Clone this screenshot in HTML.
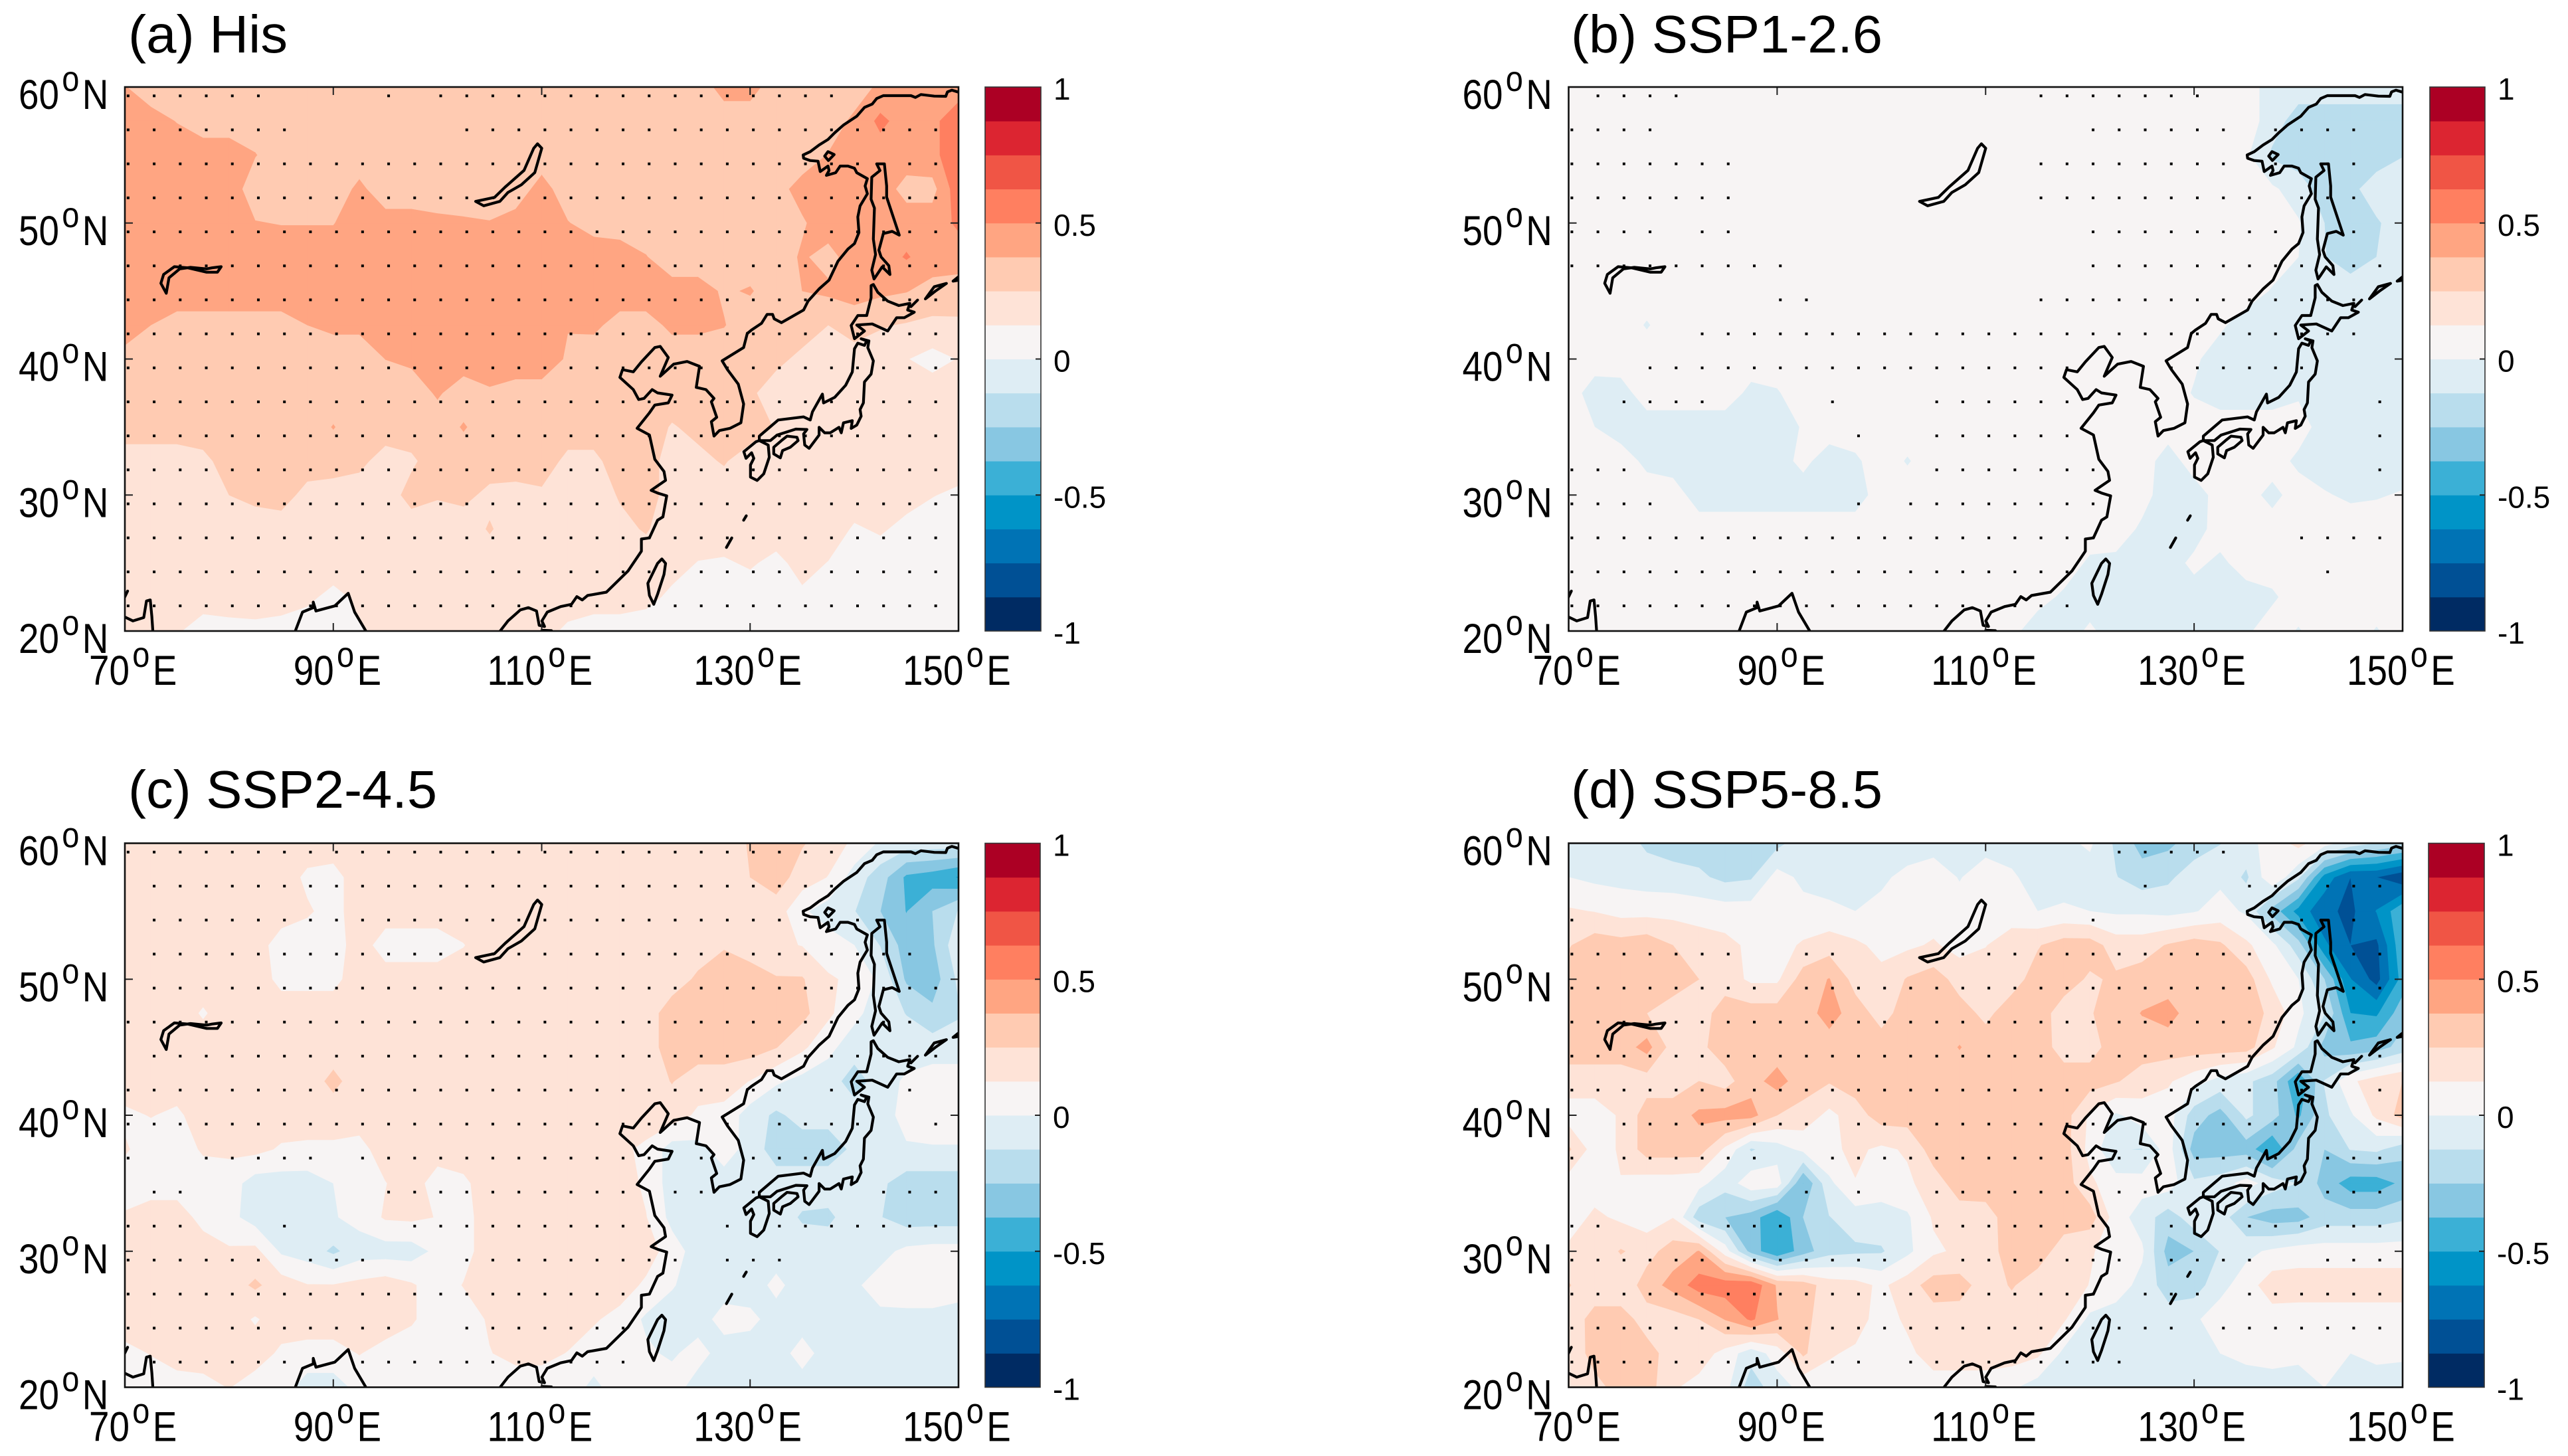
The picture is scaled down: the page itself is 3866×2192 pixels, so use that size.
<!DOCTYPE html>
<html lang="en">
<head>
<meta charset="utf-8">
<title>Four-panel East Asia anomaly maps</title>
<style>
html,body{margin:0;padding:0;background:#fff;}
body{width:3866px;height:2192px;overflow:hidden;}
svg{display:block;}
text{font-family:"Liberation Sans",Arial,sans-serif;fill:#000;}
.ttl{font-size:80px;}
</style>
</head>
<body>
<svg id="figure" width="3866" height="2192" viewBox="0 0 3866 2192">
<rect x="0" y="0" width="3866" height="2192" fill="#fff"/>
<text class="ttl" x="193" y="79" textLength="240" lengthAdjust="spacingAndGlyphs">(a) His</text>
<text class="ttl" x="2365" y="79" textLength="469" lengthAdjust="spacingAndGlyphs">(b) SSP1-2.6</text>
<text class="ttl" x="193" y="1216" textLength="465" lengthAdjust="spacingAndGlyphs">(c) SSP2-4.5</text>
<text class="ttl" x="2365" y="1216" textLength="469" lengthAdjust="spacingAndGlyphs">(d) SSP5-8.5</text>
</svg>
<script>
// ---------- axis categories and tick labels ----------
const lonTicks = [70, 90, 110, 130, 150];
const latTicks = [60, 50, 40, 30, 20];
const xTickLabels = ['70', '90', '110', '130', '150'];
const yTickLabels = ['60', '50', '40', '30', '20'];
const cbarTicks = [1, 0.5, 0, -0.5, -1];
const cbarTickLabels = ['1', '0.5', '0', '-0.5', '-1'];
const levels = [-1,-0.875,-0.75,-0.625,-0.5,-0.375,-0.25,-0.125,0,0.125,0.25,0.375,0.5,0.625,0.75,0.875];
const bandColors = ['#002b63','#005095','#0073b5','#0094c7','#3bb0d6','#88c7e2','#b9dded','#deedf4','#f7f4f4','#fee3d7','#ffcbb2','#ffa582','#ff7f60','#f05545','#dc2531','#ac0024'];

// ---------- gridded values: rows lat 60..20 every 2.5, columns lon 70..150 every 2.5 ----------
const fieldA = [
[.38,.31,.31,.31,.31,.31,.31,.31,.31,.31,.31,.31,.31,.31,.31,.31,.31,.31,.31,.31,.31,.31,.31,.42,.42,.31,.31,.31,.31,.40,.42,.42,.42],
[.44,.42,.37,.31,.31,.31,.31,.31,.31,.31,.31,.31,.31,.31,.31,.31,.31,.31,.31,.31,.31,.31,.31,.31,.31,.31,.31,.31,.40,.53,.44,.46,.60],
[.44,.44,.44,.44,.44,.38,.31,.31,.31,.31,.31,.31,.31,.31,.31,.31,.31,.31,.31,.31,.31,.31,.31,.31,.31,.31,.31,.38,.44,.44,.44,.46,.60],
[.44,.44,.44,.44,.44,.31,.31,.31,.31,.40,.31,.31,.31,.31,.31,.31,.42,.31,.31,.31,.31,.31,.31,.31,.31,.33,.42,.44,.44,.44,.33,.33,.58],
[.44,.44,.44,.44,.44,.38,.37,.37,.37,.44,.42,.42,.40,.39,.38,.42,.44,.38,.33,.31,.31,.31,.31,.31,.31,.31,.36,.44,.44,.44,.44,.44,.52],
[.44,.44,.44,.44,.44,.44,.44,.44,.44,.44,.44,.44,.44,.44,.44,.44,.44,.44,.44,.44,.38,.31,.31,.31,.31,.31,.39,.33,.44,.44,.51,.44,.44],
[.44,.44,.44,.44,.44,.44,.44,.44,.44,.44,.44,.44,.44,.44,.44,.44,.44,.44,.44,.44,.44,.42,.42,.36,.385,.31,.375,.40,.42,.40,.38,.33,.31],
[.44,.375,.33,.33,.33,.33,.33,.375,.40,.40,.44,.44,.44,.44,.44,.44,.44,.38,.40,.33,.33,.40,.40,.38,.31,.31,.31,.25,.31,.26,.24,.22,.23],
[.33,.31,.31,.31,.31,.31,.31,.31,.31,.31,.376,.40,.44,.44,.44,.44,.44,.36,.31,.31,.31,.31,.31,.31,.31,.28,.22,.19,.19,.19,.13,.08,.13],
[.31,.31,.31,.31,.31,.31,.31,.31,.31,.31,.31,.31,.39,.31,.36,.33,.33,.31,.31,.31,.31,.31,.31,.31,.27,.19,.19,.19,.19,.19,.19,.19,.19],
[.31,.31,.31,.31,.31,.31,.31,.31,.38,.31,.31,.31,.31,.385,.31,.31,.31,.31,.31,.31,.31,.24,.28,.31,.31,.24,.19,.19,.19,.19,.19,.19,.19],
[.19,.19,.19,.22,.30,.31,.31,.31,.31,.28,.20,.23,.31,.31,.31,.31,.31,.22,.22,.31,.31,.19,.22,.26,.19,.19,.19,.19,.19,.19,.19,.19,.19],
[.19,.19,.19,.19,.25,.28,.30,.21,.19,.19,.19,.29,.26,.28,.22,.21,.23,.19,.19,.26,.31,.19,.19,.19,.19,.19,.19,.19,.19,.19,.17,.13,.10],
[.19,.19,.19,.19,.19,.19,.19,.19,.19,.19,.19,.19,.19,.19,.26,.19,.19,.19,.19,.22,.26,.19,.19,.19,.19,.19,.19,.19,.11,.14,.09,.06,.06],
[.19,.19,.19,.19,.19,.19,.19,.19,.19,.19,.19,.19,.19,.19,.19,.19,.19,.19,.19,.19,.19,.17,.12,.11,.14,.09,.17,.12,.06,.06,.06,.06,.06],
[.19,.19,.19,.19,.19,.19,.19,.15,.09,.15,.19,.19,.19,.19,.19,.19,.19,.19,.19,.19,.16,.10,.06,.06,.06,.06,.10,.06,.06,.06,.06,.06,.06],
[.19,.19,.14,.06,.08,.09,.07,.06,.06,.11,.19,.19,.19,.19,.19,.19,.17,.10,.06,.06,.06,.06,.06,.06,.06,.06,.06,.06,.06,.06,.06,.06,.06]
];
const fieldB = [
[.06,.06,.06,.06,.06,.06,.06,.06,.06,.06,.06,.06,.06,.06,.06,.06,.06,.06,.06,.06,.06,.06,.06,.06,.06,.06,.06,-.06,-.06,-.06,-.06,-.06,-.06],
[.06,.06,.06,.06,.06,.06,.06,.06,.06,.06,.06,.06,.06,.06,.06,.06,.06,.06,.06,.06,.06,.06,.06,.06,.06,.06,.06,-.06,-.19,-.19,-.19,-.19,-.19],
[.06,.06,.06,.06,.06,.06,.06,.06,.06,.06,.06,.06,.06,.06,.06,.06,.06,.06,.06,.06,.06,.06,.06,.06,.06,.06,.02,-.15,-.19,-.19,-.19,-.19,-.13],
[.06,.06,.06,.06,.06,.06,.06,.06,.06,.06,.06,.06,.06,.06,.06,.06,.06,.06,.06,.06,.06,.06,.06,.06,.06,.06,.06,.02,-.06,-.19,-.16,-.06,-.06],
[.06,.06,.06,.06,.06,.06,.06,.06,.06,.06,.06,.06,.06,.06,.06,.06,.06,.06,.06,.06,.06,.06,.06,.06,.06,.06,.06,.06,.01,-.125,-.19,-.14,-.06],
[.06,.06,.06,.06,.06,.06,.06,.06,.06,.06,.06,.06,.06,.06,.06,.06,.06,.06,.06,.06,.06,.06,.06,.06,.06,.06,.06,.06,0,-.12,-.19,-.125,-.06],
[.06,.06,.06,.06,.06,.06,.06,.06,.06,.06,.06,.06,.06,.06,.06,.06,.06,.06,.06,.06,.06,.06,.06,.06,.06,.06,.06,-.01,-.06,-.06,-.06,-.06,-.06],
[.06,.06,.06,-.01,.06,.06,.06,.06,.06,.06,.06,.06,.06,.06,.06,.06,.06,.06,.06,.06,.06,.06,.06,.06,.06,.02,-.06,-.06,-.06,-.06,-.06,-.06,-.06],
[.06,.06,.06,.06,.06,.06,.06,.06,.06,.06,.06,.06,.06,.06,.06,.06,.06,.06,.06,.06,.06,.06,.06,.06,.02,-.06,-.06,-.06,-.06,-.06,-.06,-.06,-.06],
[.06,-.06,-.05,.06,.06,.06,.06,-.03,-.01,.06,.06,.06,.06,.06,.06,.06,.06,.06,.06,.06,.06,.06,.06,.06,-.01,-.06,-.06,-.06,-.02,-.06,-.06,-.06,-.06],
[.06,0,-.06,-.06,-.06,-.06,-.06,-.06,-.06,.01,.06,.06,.06,.06,.06,.06,.06,.06,.06,.06,.06,.06,.06,.06,.06,.06,.06,.06,.06,-.06,-.06,-.06,-.06],
[.06,.06,.06,-.03,-.06,-.06,-.06,-.06,-.05,.03,-.06,-.02,.06,-.01,.06,.06,.06,.06,.06,.06,.06,.06,.06,-.06,.06,.06,.06,.06,-.03,-.06,-.06,-.06,-.06],
[.06,.06,.06,.06,.06,-.06,-.06,-.06,-.06,-.06,-.06,-.06,.06,.06,.06,.06,.06,.06,.06,.06,.06,.06,.04,-.06,-.06,.05,.05,-.04,.06,.01,-.02,-.01,.01],
[.06,.06,.06,.06,.06,.06,.06,.06,.06,.06,.06,.06,.06,.06,.06,.06,.06,.06,.06,.06,.06,.06,-.02,-.06,-.06,.06,.06,.06,.06,.06,.06,.06,.06],
[.06,.06,.06,.06,.06,.06,.06,.06,.06,.06,.06,.06,.06,.06,.06,.06,.06,.06,.06,.06,-.02,-.03,-.06,-.06,.03,-.03,.06,.06,.06,.06,.06,.06,.06],
[.06,.06,.06,.06,.06,.06,.06,.06,.06,.06,.06,.06,.06,.06,.06,.06,.06,.06,.04,-.02,-.06,-.06,-.06,-.06,-.06,-.06,-.06,-.02,.06,.06,.06,.06,.06],
[.06,.06,.06,.06,.06,.06,.06,.06,.06,.06,.06,.06,.06,.06,.06,.06,.06,.03,-.06,-.06,.02,-.06,-.06,-.06,-.06,-.06,-.02,.06,-.01,.06,.06,-.01,.06]
];
const fieldC = [
[.19,.19,.19,.19,.19,.19,.19,.19,.19,.19,.19,.19,.19,.19,.19,.19,.19,.19,.19,.19,.19,.19,.19,.19,.26,.31,.26,.19,.10,-.02,-.06,-.06,-.06],
[.19,.19,.19,.19,.19,.19,.19,.10,.08,.19,.19,.19,.19,.19,.19,.19,.19,.19,.19,.19,.19,.19,.19,.19,.25,.31,.19,.12,-.06,-.19,-.40,-.44,-.51],
[.19,.19,.19,.19,.19,.19,.19,.14,.08,.19,.19,.19,.19,.19,.19,.19,.19,.19,.19,.19,.19,.19,.19,.19,.19,.19,.02,-.06,-.12,-.25,-.38,-.25,-.12],
[.19,.19,.19,.19,.19,.19,.06,.06,.06,.19,.06,.06,.06,.12,.19,.19,.19,.19,.19,.19,.19,.19,.19,.24,.19,.15,.12,.06,0,-.13,-.31,-.27,-.03],
[.19,.19,.19,.19,.19,.19,.09,.09,.09,.19,.19,.19,.19,.19,.19,.19,.19,.19,.19,.19,.19,.19,.27,.31,.31,.26,.26,.14,.10,-.03,-.27,-.32,-.10],
[.19,.19,.19,.11,.19,.19,.19,.19,.19,.19,.19,.19,.19,.19,.19,.19,.19,.19,.19,.19,.19,.31,.31,.31,.31,.31,.29,.15,.03,-.06,-.13,-.22,-.14],
[.19,.19,.19,.19,.19,.19,.19,.19,.19,.19,.19,.19,.19,.19,.19,.19,.19,.19,.19,.19,.19,.31,.31,.31,.31,.255,.15,.03,-.06,-.06,-.06,-.06,-.06],
[.19,.19,.19,.19,.19,.19,.19,.19,.28,.19,.19,.19,.19,.19,.19,.19,.19,.19,.19,.19,.19,.255,.19,.19,.12,.02,-.04,-.06,-.19,-.06,.02,.06,.06],
[.10,.13,.10,.19,.19,.19,.19,.19,.19,.19,.19,.19,.19,.19,.19,.19,.19,.19,.19,.19,.19,.19,.10,.08,-.06,-.15,-.08,-.08,-.06,-.04,.03,.06,.06],
[.14,.06,.06,.14,.15,.16,.11,.10,.10,.08,.19,.19,.19,.19,.19,.19,.19,.19,.19,.15,.10,-.06,-.04,.06,-.05,-.19,-.19,-.19,-.10,-.06,-.01,-.01,-.01],
[.06,.06,.06,.06,.06,-.06,-.06,-.06,0,.06,.12,.19,.06,.10,.19,.19,.19,.19,.19,.19,.10,-.06,-.06,-.06,-.06,-.06,-.06,-.06,-.06,-.10,-.19,-.19,-.19],
[.14,.19,.19,.08,.04,-.06,-.06,-.06,-.01,.04,.14,.15,.12,.08,.19,.19,.19,.19,.19,.19,.13,-.04,-.06,-.09,-.06,-.06,-.14,-.15,-.06,-.12,-.19,-.19,-.19],
[.19,.19,.19,.19,.14,.16,-.02,-.06,-.15,-.06,-.06,-.06,.03,.08,.19,.19,.19,.19,.19,.19,.19,.06,-.06,-.06,-.06,-.06,-.06,-.06,-.06,-.04,.03,.05,.05],
[.19,.19,.19,.19,.19,.27,.19,.13,.13,.16,.19,.14,.06,.13,.19,.19,.19,.19,.19,.19,.10,.01,-.06,-.06,-.06,.03,-.06,-.06,-.02,.05,.06,.06,.06],
[.19,.19,.19,.19,.19,.11,.19,.19,.19,.19,.19,.14,.06,.06,.14,.19,.19,.19,.14,.08,-.02,-.06,-.06,.05,.03,-.05,-.06,-.06,-.06,-.03,-.03,-.03,-.06],
[.09,.13,.19,.19,.19,.19,.10,.08,.08,.13,.08,.06,.06,.06,.12,.16,.16,.12,.06,.06,.02,-.02,.05,-.06,-.06,-.06,.05,-.06,-.06,-.06,-.06,-.06,-.06],
[.06,.06,.06,.08,.13,.06,.06,-.06,-.06,.04,.06,.06,.06,.06,.06,.06,.06,.06,-.03,.06,.06,.06,-.06,-.06,-.06,-.06,-.06,-.06,-.06,-.06,-.06,-.06,-.06]
];
const fieldD = [
[-.06,-.06,-.06,-.15,-.19,-.19,-.14,-.19,-.16,-.06,-.06,-.06,-.06,-.06,-.06,-.06,-.06,-.06,-.06,-.03,.02,-.15,-.3,-.28,-.19,-.13,-.05,.06,.16,.05,-.06,-.13,-.2],
[0,-.03,-.04,-.06,-.07,-.1,-.16,-.14,.05,-.03,-.06,-.06,-.02,.03,.08,-.01,.08,.02,-.06,-.06,-.06,-.12,-.19,-.15,-.06,-.03,-.15,.1,-.1,-.55,-.75,-.75,-.85],
[.14,.12,.08,.08,.08,.07,.06,.06,.06,.04,.03,0,.03,.06,.06,.06,.07,.06,0,.02,0,-.02,-.02,-.04,-.01,.05,-.02,-.3,-.55,-.72,-.78,-.62,-.4],
[.24,.32,.30,.33,.25,.19,.16,.10,.08,.14,.19,.15,.09,.10,.14,.08,.12,.19,.24,.31,.31,.19,.19,.26,.31,.27,.15,.03,-.2,-.6,-.75,-.78,-.4],
[.31,.31,.31,.31,.31,.25,.19,.10,.10,.31,.38,.20,.16,.26,.31,.20,.19,.20,.30,.31,.23,.27,.31,.31,.31,.31,.31,.10,0,-.25,-.62,-.8,-.45],
[.31,.31,.31,.25,.19,.19,.31,.31,.31,.31,.43,.31,.20,.31,.31,.30,.22,.31,.31,.19,.24,.31,.38,.42,.31,.31,.31,.22,.03,-.12,-.5,-.52,-.3],
[.31,.31,.31,.42,.19,.22,.31,.31,.31,.31,.31,.31,.31,.31,.31,.38,.31,.31,.31,.20,.20,.31,.31,.31,.31,.31,.30,.14,-.03,-.3,-.35,-.31,-.2],
[.19,.19,.19,.19,.19,.25,.20,.33,.42,.31,.26,.31,.31,.31,.31,.31,.31,.31,.31,.31,.31,.26,.19,.14,.05,-.05,-.1,-.2,-.5,-.12,.10,.19,.25],
[.06,.06,.14,.31,.31,.40,.42,.42,.25,.20,.09,.19,.31,.31,.31,.31,.31,.31,.31,.31,.10,-.02,.06,.06,-.19,-.3,-.1,-.2,-.4,-.15,-.02,.15,.30],
[.27,.06,.14,.31,.31,.31,.10,-.14,-.06,.03,.10,.15,.10,.14,.31,.31,.31,.31,.31,.31,.08,-.12,-.13,.06,-.31,-.31,-.31,-.5,-.2,-.25,-.12,-.10,-.2],
[.06,.06,.12,.06,.06,.04,-.08,.08,.07,-.38,-.03,.12,.06,.10,.19,.31,.31,.31,.31,.31,.15,.05,.05,.06,-.1,-.06,.05,-.06,-.13,-.3,-.44,-.44,-.35],
[.06,.15,.10,.06,.12,-.2,-.25,-.31,-.5,-.25,-.13,-.06,-.05,-.02,.14,.19,.20,.31,.31,.31,.31,.06,-.06,-.19,-.06,-.06,-.25,-.31,-.3,-.19,-.19,-.19,-.15],
[.15,.15,.26,.20,.31,.38,.06,-.3,-.5,-.31,-.17,-.15,-.14,-.03,.10,.15,.19,.31,.31,.19,.14,.06,.02,-.3,-.25,-.12,-.03,.02,.06,.06,.06,.06,.06],
[.26,.15,.15,.31,.42,.56,.57,.60,.36,.31,.19,.17,.10,.19,.31,.30,.19,.26,.19,.19,.12,.06,-.04,-.19,-.19,-.04,.06,.20,.19,.19,.19,.19,.19],
[.15,.31,.31,.19,.19,.25,.38,.52,.38,.28,.19,.19,.06,.15,.19,.19,.19,.19,.19,.14,-.03,-.06,-.06,-.06,-.02,.06,.06,.06,.06,.06,.06,.06,.06],
[.14,.31,.31,.30,.19,.19,.08,-.08,.06,.27,.14,.10,.06,.09,.19,.19,.19,.19,.15,-.03,-.06,-.06,-.06,-.06,-.03,0,.03,.05,.03,.02,0,.03,.02],
[.15,.20,.31,.31,.14,.08,.04,-.19,-.06,.04,.06,.06,.06,.06,.06,.06,.06,.02,-.06,-.06,-.06,-.06,-.06,-.06,-.06,-.06,-.06,-.06,-.06,0,-.06,-.06,-.06]
];

// ---------- significance stippling: per row, runs of significant grid-column indices ----------
const stippleA = [
[[0,5],[10,10],[12,27]],[[0,6],[13,31]],[[0,28],[30,31]],[[0,31]],[[0,31]],[[0,31]],[[0,31]],[[0,31]],
[[0,31]],[[0,31]],[[0,31]],[[0,31]],[[0,31]],[[0,31]],[[0,31]],[[0,31]]
];
const stippleB = [
[[1,4],[18,24]],[[0,3],[20,25],[27,30]],[[0,6],[18,25],[27,27],[29,30]],[[0,6],[18,26],[28,30]],
[[0,3],[5,6],[20,27],[30,30]],[[0,8],[20,28],[30,31]],[[8,9],[18,30]],[[5,30]],
[[3,19],[23,28]],[[2,5],[10,10],[14,19],[31,31]],[[11,11],[14,19],[31,31]],[[0,2],[14,20],[31,31]],
[[0,3],[11,11],[13,20]],[[0,20],[28,31]],[[0,19],[29,29]],[[0,19]]
];
const stippleC = [
[[0,27]],[[1,27]],[[1,28]],[[1,30]],[[1,31]],[[0,30]],[[1,31]],[[0,25],[27,27],[30,30]],
[[0,21],[23,23],[25,28],[31,31]],[[0,0],[3,7],[9,20],[22,22],[24,26]],[[1,2],[10,19],[21,22],[24,24],[29,31]],
[[0,2],[6,6],[11,20],[23,23],[25,31]],[[0,5],[7,9],[13,21],[23,25]],[[0,19]],[[0,10],[13,19]],[[1,6],[9,19]]
];
const stippleD = [
[[21,25]],[[22,22],[26,27],[29,31]],[[0,0],[20,20],[28,28],[30,30]],[[0,6],[9,10],[15,26],[30,31]],
[[0,7],[9,26],[30,31]],[[0,27],[30,30]],[[0,26],[31,31]],[[0,20],[22,28],[31,31]],
[[2,9],[11,20],[22,22],[24,28],[31,31]],[[0,0],[2,7],[10,22],[24,27],[29,31]],
[[9,9],[11,11],[14,19],[21,23],[29,31]],[[0,1],[5,8],[14,20],[23,23],[26,31]],
[[0,5],[7,12],[15,21],[23,26],[29,31]],[[0,20],[22,24],[26,31]],[[0,23],[25,31]],[[0,6],[9,11],[13,21]]
];

const traceCalibration = {
  north:  {lon0:121.75, lonK:47.07, lat0:60.537, latK:61.425},
  japan:  {lon0:121.75, lonK:47.07, lat0:41.98,  latK:61.425},
  south:  {lon0:69.49,  lonK:19.37, lat0:41.905, latK:61.425},
  inland: {lon0:69.586, lonK:19.37, lat0:60.22,  latK:61.425}
};
const coastTraces = [
 {cal:'north', pts:[1332,57,1300,47,1280,55,1272,75,1220,74,1160,67,1135,80,1115,72,990,72,960,85,940,110,905,125,870,165,810,205,770,240,740,270,700,295,660,325,628,340,630,355,660,365,695,368,705,415,740,390,745,410,733,432,775,420,795,390,830,390,860,400,870,420,918,447,908,480,918,515,885,570,875,620,880,690,860,740,830,765,785,820,745,905,700,945,650,1000,630,1040,560,1080,530,1097,497,1080,490,1060,465,1060,440,1100,395,1130,376,1146]},
 {cal:'south', pts:[1167,0,1160,65,1120,125,1130,165,1150,230,1160,320,1155,405,1135,430,1115,440,1105,465,1100,400,1110,380,1100,310,1105,295,1090,255,1072,245,1078,150,1055,128,1030,140,1005,195,1020,110,1005,60,995,65,970,130,955,175,935,165,930,200,955,255,965,300,975,295,990,255,1000,270,1027,280,1020,315,995,325,985,360,962,430,985,460,995,570,1012,625,1015,665,1000,690,988,710,1000,722,1017,735,1010,830,1000,845,985,925,970,930,970,985,945,1075,905,1170,870,1185,860,1205,850,1190,840,1225,820,1235,795,1260,785,1300,790,1325,780,1320,775,1255,760,1240,745,1250,722,1300,706,1350]},
 {cal:'south', pts:[785,1342,803,1344]},
 {cal:'south', pts:[326,1350,340,1260,360,1240,360,1215,365,1255,400,1232,425,1175,437,1260,459,1350]},
 {cal:'south', pts:[8,1280,25,1300,45,1285,50,1210,57,1205,60,1280,62,1350]},
 {cal:'south', pts:[8,1200,15,1165]},
 {cal:'south', pts:[985,1185,982,1130,1000,1040,1008,1020,1015,1040,1012,1090,1000,1180,993,1225,985,1185]},
 {cal:'south', pts:[1160,845,1165,825]},
 {cal:'south', pts:[1128,968,1138,925]},
 {cal:'inland', pts:[775,270,783,290,770,400,745,455,720,490,705,530,675,550,660,530,695,512,715,465,750,390,768,290,775,270]},
 {cal:'inland', pts:[85,945,75,900,80,860,100,825,125,830,160,850,180,850,187,825,170,830,160,835,130,828,110,835,90,875,85,945]},
 {cal:'north', pts:[725,345,740,325,768,338,742,365,725,345]},
 {cal:'north', pts:[960,380,995,380,1005,480,1005,530,1062,702,1030,685,990,695,970,770,980,800,1015,840,1020,880,985,845,955,890,948,900,938,860,955,790,945,720,950,580,935,540,938,440,975,410,960,380]},
 {cal:'north', pts:[1115,1025,1145,995]},
 {cal:'north', pts:[1180,990,1220,935,1275,920,1225,955,1180,990]},
 {cal:'north', pts:[1305,910,1332,888,1332,905,1305,910]},
 {cal:'north', pts:[945,925,965,960,1010,1000,1060,1020,1110,1010,1100,1040,1130,1050,1085,1075,1050,1075,1010,1135,940,1103,870,1108,905,1135,860,1170,845,1110,875,1065,915,1065,935,985,935,930,945,925]},
 {cal:'japan', pts:[890,30,925,40,920,70,945,130,935,190,905,225,900,320,885,350,890,380,870,420,845,435,850,400,810,410,800,455,790,430,750,455,725,455,700,430,700,465,655,525,635,510,630,460,645,440,595,438,510,465,480,490,430,490,430,470,515,397,630,383,660,397,670,360,715,280,720,320,770,295,820,240,850,180,860,75,875,50,905,60,915,40,890,30]},
 {cal:'japan', pts:[430,490,470,510,475,565,450,640,420,670,390,655,390,600,405,570,395,545,370,570,360,540,415,495,430,490]},
 {cal:'japan', pts:[605,490,600,475,555,470,530,490,495,520,495,550,525,568,535,535,570,520,605,490]}
];

// ---------- panel frames ----------
const panels = [
 {id:'a', x0:188,    x1:1443,   y0:131,    y1:950,    cb0:1483, cb1:1567, field:fieldA, stipple:stippleA},
 {id:'b', x0:2361.5, x1:3617,   y0:131,    y1:950,    cb0:3658, cb1:3741, field:fieldB, stipple:stippleB},
 {id:'c', x0:188,    x1:1443,   y0:1269.5, y1:2088.5, cb0:1483, cb1:1566, field:fieldC, stipple:stippleC},
 {id:'d', x0:2361.5, x1:3617,   y0:1269.5, y1:2088.5, cb0:3656, cb1:3740, field:fieldD, stipple:stippleD}
];
const xLabelOffsets = [-54, -60, -82, -85, -84];

const svg = document.getElementById('figure');
const NS = svg.namespaceURI;
function make(tag, parent, attrs) {
  const el = document.createElementNS(NS, tag);
  for (const k in attrs) el.setAttribute(k, attrs[k]);
  parent.appendChild(el);
  return el;
}
function valueAt(field, r, c) {
  const row = field[Math.min(r, field.length - 1)];
  const v = row[c];
  return v === undefined ? row[row.length - 1] : v;
}
function edgePoint(a, b, t) {
  const f = (t - a.v) / (b.v - a.v);
  return {x: a.x + f * (b.x - a.x), y: a.y + f * (b.y - a.y)};
}
// polygons of a grid cell where value >= t; saddles are resolved with the cell mean
function clipCell(cs, t) {
  const inside = cs.map(function (q) { return q.v >= t; });
  const saddle = inside[0] === inside[2] && inside[1] === inside[3] && inside[0] !== inside[1];
  const mean = (cs[0].v + cs[1].v + cs[2].v + cs[3].v) / 4;
  if (saddle && mean < t) {
    const polys = [];
    for (let i = 0; i < 4; i++) {
      if (inside[i]) {
        polys.push([edgePoint(cs[(i + 3) % 4], cs[i], t), cs[i], edgePoint(cs[i], cs[(i + 1) % 4], t)]);
      }
    }
    return polys;
  }
  const out = [];
  for (let i = 0; i < 4; i++) {
    const a = cs[i], b = cs[(i + 1) % 4];
    const ai = a.v >= t, bi = b.v >= t;
    if (ai) out.push(a);
    if (ai !== bi) out.push(edgePoint(a, b, t));
  }
  return out.length > 2 ? [out] : [];
}
function tickLabel(parent, x, y, digits, suffix, gap) {
  const t = make('text', parent, {transform: 'translate(' + x + ',' + y + ') scale(0.87,1)', 'font-size': 63});
  const d = make('tspan', t, {});
  d.textContent = digits;
  const o = make('tspan', t, {'font-size': 54, dy: -27, dx: gap});
  o.textContent = 'o';
  const s = make('tspan', t, {'font-size': 63, dy: 27, dx: gap});
  s.textContent = suffix;
  return t;
}

panels.forEach(function (p) {
  const lonX = function (lon) { return p.x0 + (lon - 70) * (p.x1 - p.x0) / 80; };
  const latY = function (lat) { return p.y0 + (60 - lat) * (p.y1 - p.y0) / 40; };
  const cbY = function (v) { return p.y0 + (1 - v) / 2 * (p.y1 - p.y0); };

  const g = make('g', svg, {});
  
  

  const clip = make('clipPath', g, {id: 'clip-' + p.id});
  make('rect', clip, {x: p.x0, y: p.y0, width: p.x1 - p.x0, height: p.y1 - p.y0});

  // filled contours, painted low to high
  const contours = make('g', g, {'clip-path': 'url(#clip-' + p.id + ')'});
  
  
  const nRows = p.field.length, nCols = p.field[0].length;
  levels.forEach(function (t, li) {
    let d = '';
    for (let r = 0; r < nRows - 1; r++) {
      for (let c = 0; c < nCols - 1; c++) {
        const node = function (rr, cc) {
          return {x: lonX(70 + 2.5 * cc), y: latY(60 - 2.5 * rr), v: valueAt(p.field, rr, cc)};
        };
        clipCell([node(r, c), node(r, c + 1), node(r + 1, c + 1), node(r + 1, c)], t).forEach(function (poly) {
          d += 'M' + poly.map(function (q) { return q.x.toFixed(1) + ' ' + q.y.toFixed(1); }).join('L') + 'Z';
        });
      }
    }
    if (d) {
      const band = make('path', contours, {d: d, fill: bandColors[li], stroke: bandColors[li], 'stroke-width': 0.6});
      
      
    }
  });

  // stippling
  const dots = make('g', g, {fill: '#000'});
  
  
  p.stipple.forEach(function (runs, r) {
    runs.forEach(function (run) {
      for (let k = run[0]; k <= run[1]; k++) {
        const dot = make('rect', dots, {x: lonX(70.31 + 2.5 * k) - 2, y: latY(59.35 - 2.5 * r) - 2, width: 4, height: 4});
        
        
      }
    });
  });

  // coastline
  const coast = make('g', g, {'clip-path': 'url(#clip-' + p.id + ')', fill: 'none', stroke: '#000', 'stroke-width': 4.2, 'stroke-linejoin': 'round', 'stroke-linecap': 'round'});
  
  
  coastTraces.forEach(function (tr) {
    const cal = traceCalibration[tr.cal];
    let d = '';
    for (let i = 0; i < tr.pts.length; i += 2) {
      const lon = cal.lon0 + tr.pts[i] / cal.lonK;
      const lat = cal.lat0 - tr.pts[i + 1] / cal.latK;
      d += (i ? 'L' : 'M') + lonX(lon).toFixed(1) + ' ' + latY(lat).toFixed(1);
    }
    const seg = make('path', coast, {d: d});
    
    
  });

  // ticks
  let td = '';
  lonTicks.forEach(function (lon) {
    if (lon === 70 || lon === 150) return;
    td += 'M' + lonX(lon) + ' ' + p.y0 + 'v12M' + lonX(lon) + ' ' + p.y1 + 'v-12';
  });
  latTicks.forEach(function (lat) {
    if (lat === 60 || lat === 20) return;
    td += 'M' + p.x0 + ' ' + latY(lat) + 'h12M' + p.x1 + ' ' + latY(lat) + 'h-12';
  });
  const ticks = make('path', g, {d: td, stroke: '#222', 'stroke-width': 2, fill: 'none'});
  
  

  // frame
  const frame = make('rect', g, {x: p.x0, y: p.y0, width: p.x1 - p.x0, height: p.y1 - p.y0, fill: 'none', stroke: '#111', 'stroke-width': 2.6});
  
  

  // tick labels
  lonTicks.forEach(function (lon, i) {
    const lab = tickLabel(g, lonX(lon) + xLabelOffsets[i], p.y1 + 81, xTickLabels[i], 'E', 5);
    
    
  });
  latTicks.forEach(function (lat, i) {
    const lab = tickLabel(g, p.x0 - 160, latY(lat) + 33, yTickLabels[i], 'N', 5);
    
    
  });

  // colour bar
  const cb = make('g', g, {});
  
  
  levels.forEach(function (lv, i) {
    const top = i + 1 < levels.length ? levels[i + 1] : 1;
    const sw = make('rect', cb, {x: p.cb0, y: cbY(top), width: p.cb1 - p.cb0, height: cbY(lv) - cbY(top) + 0.5, fill: bandColors[i]});
    
    
  });
  const cbFrame = make('rect', cb, {x: p.cb0, y: p.y0, width: p.cb1 - p.cb0, height: p.y1 - p.y0, fill: 'none', stroke: '#333', 'stroke-width': 1.6});
  
  
  cbarTicks.forEach(function (v, i) {
    if (Math.abs(v) < 1) {
      const tk = make('line', cb, {x1: p.cb1 - 8, x2: p.cb1, y1: cbY(v), y2: cbY(v), stroke: '#222', 'stroke-width': 2});
      
      
    }
    const lab = make('text', cb, {x: p.cb1 + 19, y: cbY(v) + 19, 'font-size': 46, fill: '#1a1a1a'});
    lab.textContent = cbarTickLabels[i];
    
    
  });
});
</script>
</body>
</html>
